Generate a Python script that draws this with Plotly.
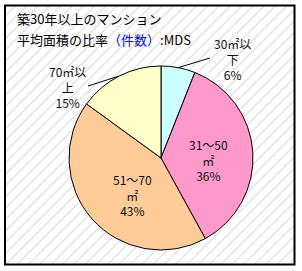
import math
import plotly.graph_objects as go

# ---- data ----
categories = ["30㎡以下", "31～50㎡", "51～70㎡", "70㎡以上"]
shares = [6, 36, 43, 15]
label_texts = ["30㎡以<br>下<br>6%", "31～50<br>㎡<br>36%", "51～70<br>㎡<br>43%", "70㎡以<br>上<br>15%"]
slice_colors = ["#CCFFFF", "#FF99CC", "#FFCC99", "#FFFFCC"]

W, H = 302, 271
CX, CY, R = 161, 158, 92  # pie centre / radius in pixels

def px(x):
    return x / W

def py(y):
    return 1 - y / H

fig = go.Figure()

# hatched chart-area background
fig.add_trace(go.Bar(
    x=[0], y=[1], width=[1], xaxis="x", yaxis="y",
    marker=dict(color="white", line=dict(width=0),
                pattern=dict(shape="/", fgcolor="#c0c0c0", bgcolor="white",
                             size=8, solidity=0.16, fillmode="overlay")),
    hoverinfo="skip", showlegend=False,
))

fig.add_trace(go.Pie(
    labels=categories, values=shares, sort=False, direction="clockwise",
    rotation=0, textinfo="none",
    marker=dict(colors=slice_colors, line=dict(color="black", width=1)),
    domain=dict(x=[px(CX - R), px(CX + R)], y=[py(CY + R), py(CY - R)]),
    showlegend=False, hoverinfo="label+percent",
))

# label positions (pixel centres)
label_pos = [(232, 59), (208, 160), (132, 195), (67, 87)]
leader_end = [(210, 58), None, None, (88, 86)]

annotations = []
shapes = []
total = sum(shares)
cum = 0
for i, v in enumerate(shares):
    mid = 2 * math.pi * (cum + v / 2) / total
    cum += v
    lx, ly = label_pos[i]
    annotations.append(dict(
        x=px(lx), y=py(ly), xref="paper", yref="paper", text=label_texts[i],
        showarrow=False, xanchor="center", yanchor="middle", align="center",
        font=dict(family="Noto Sans CJK JP", size=12, color="#111111"),
    ))
    if leader_end[i] is not None:
        ex, ey = CX + R * math.sin(mid), CY - R * math.cos(mid)
        tx, ty = leader_end[i]
        shapes.append(dict(type="line", xref="paper", yref="paper",
                           x0=px(ex), y0=py(ey), x1=px(tx), y1=py(ty),
                           line=dict(color="black", width=1)))

# title
annotations.append(dict(
    x=px(15), y=py(19), xref="paper", yref="paper",
    text="築30年以上のマンション", showarrow=False, xanchor="left", yanchor="middle",
    font=dict(family="Noto Sans CJK JP", size=13, color="black"),
))
annotations.append(dict(
    x=px(15), y=py(39), xref="paper", yref="paper",
    text="平均面積の比率<span style='color:#0000FF'>（件数）</span>:MDS",
    showarrow=False, xanchor="left", yanchor="middle",
    font=dict(family="Noto Sans CJK JP", size=13, color="black"),
))

# border
shapes.append(dict(type="rect", xref="paper", yref="paper",
                   x0=px(5), y0=py(5.5), x1=px(294.5), y1=py(264.5),
                   line=dict(color="black", width=2), fillcolor="rgba(0,0,0,0)"))

fig.update_layout(
    width=W, height=H, margin=dict(l=0, r=0, t=0, b=0),
    paper_bgcolor="white", plot_bgcolor="white",
    bargap=0,
    xaxis=dict(domain=[px(5), px(295)], range=[-0.5, 0.5], visible=False, fixedrange=True),
    yaxis=dict(domain=[py(265), py(5)], range=[0, 1], visible=False, fixedrange=True),
    annotations=annotations, shapes=shapes,
)

fig.write_html("out.html")
